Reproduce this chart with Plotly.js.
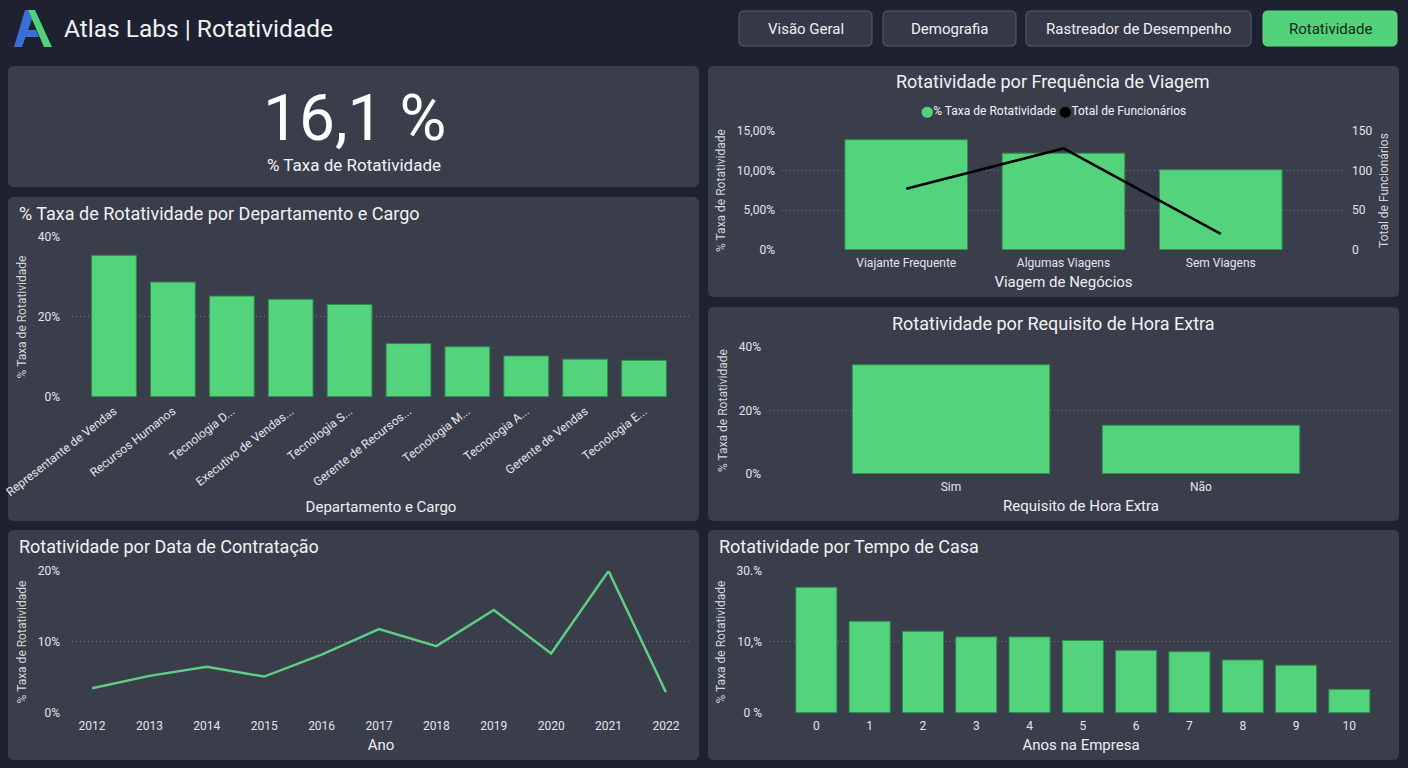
<!DOCTYPE html>
<html>
<head>
<meta charset="utf-8">
<script src="https://cdn.plot.ly/plotly-3.0.1.min.js"></script>
<style>
  html, body { margin: 0; padding: 0; background: #1e2130; }
  #dash { width: 1408px; height: 768px; }
</style>
</head>
<body>
<div id="dash"></div>
<script>
// ---- Data ----
const overallRate = 16.1;

const deptLabels = ["Representante de Vendas", "Recursos Humanos", "Tecnologia D...", "Executivo de Vendas...",
  "Tecnologia S...", "Gerente de Recursos...", "Tecnologia M...", "Tecnologia A...", "Gerente de Vendas", "Tecnologia E..."];
const deptRates = [35.4, 28.7, 25.2, 24.4, 23.1, 13.3, 12.5, 10.2, 9.4, 9.1];

const travelCats = ["Viajante Frequente", "Algumas Viagens", "Sem Viagens"];
const travelRates = [13.9, 12.2, 10.1];
const travelEmployees = [77, 128, 20];

const overtimeCats = ["Sim", "Não"];
const overtimeRates = [34.4, 15.3];

const hireYears = [2012, 2013, 2014, 2015, 2016, 2017, 2018, 2019, 2020, 2021, 2022];
const hireRates = [3.45, 5.2, 6.5, 5.1, 8.2, 11.8, 9.4, 14.5, 8.35, 20.0, 2.9];

const tenureYears = [0, 1, 2, 3, 4, 5, 6, 7, 8, 9, 10];
const tenureRates = [17.7, 12.9, 11.5, 10.7, 10.7, 10.2, 8.8, 8.6, 7.45, 6.7, 3.3];

const navButtons = ["Visão Geral", "Demografia", "Rastreador de Desempenho", "Rotatividade"];
const activeButton = "Rotatividade";

// ---- Page geometry helpers (pixels -> paper fractions) ----
const W = 1408, H = 768;
const px = x => x / W;
const py = y => 1 - y / H;

const GREEN = "#53d47c";
const GREEN_EDGE = "#2f8a50";
const PANEL = "#3a3d4a";
const GRID = "#737784";
const FONT = "Roboto, 'Noto Sans', sans-serif";
const TICK = { family: FONT, size: 12, color: "#e4e5ea" };

function roundRect(x0, y0, x1, y1, r, fill, line) {
  const p = (x, y) => `${px(x)},${py(y)}`;
  const path = `M ${p(x0 + r, y0)} L ${p(x1 - r, y0)} Q ${p(x1, y0)} ${p(x1, y0 + r)} ` +
    `L ${p(x1, y1 - r)} Q ${p(x1, y1)} ${p(x1 - r, y1)} L ${p(x0 + r, y1)} ` +
    `Q ${p(x0, y1)} ${p(x0, y1 - r)} L ${p(x0, y0 + r)} Q ${p(x0, y0)} ${p(x0 + r, y0)} Z`;
  return { type: "path", xref: "paper", yref: "paper", path, fillcolor: fill,
    line: { color: line || fill, width: line ? 1 : 0 }, layer: "below" };
}
function polygon(pts, fill) {
  const path = "M " + pts.map(([x, y]) => `${px(x)},${py(y)}`).join(" L ") + " Z";
  return { type: "path", xref: "paper", yref: "paper", path, fillcolor: fill,
    line: { width: 0 }, layer: "above" };
}
function text(t, x, y, size, opts = {}) {
  return Object.assign({ text: t, x: px(x), y: py(y), xref: "paper", yref: "paper",
    showarrow: false, xanchor: "left", yanchor: "middle",
    font: { family: FONT, size, color: "#f2f2f4" } }, opts);
}

// ---- Panels, header, logo ----
const shapes = [
  roundRect(8, 66, 699, 187, 6, PANEL),
  roundRect(8, 197, 699, 521, 6, PANEL),
  roundRect(708, 66, 1399, 297, 6, PANEL),
  roundRect(708, 307, 1399, 521, 6, PANEL),
  roundRect(8, 530, 699, 760, 6, PANEL),
  roundRect(708, 530, 1399, 760, 6, PANEL),
  // logo "A"
  polygon([[14, 47], [22, 47], [32, 19], [28, 10], [25, 10]], "#3a6fd6"),
  polygon([[28, 10], [35, 10], [52, 47], [44, 47]], "#4fd27a"),
  polygon([[19, 37], [39, 37], [36, 30], [22, 30]], "#3a6fd6")
];

const buttonBoxes = [[739, 872], [883, 1016], [1026, 1251], [1263, 1397]];
const annotations = [
  text("Atlas Labs | Rotatividade", 62, 29, 24.5),
  text(overallRate.toFixed(1).replace(".", ",") + " %", 354, 118, 64,
    { xanchor: "center", font: { family: FONT, size: 64, color: "#ffffff" } }),
  text("% Taxa de Rotatividade", 354, 165, 17, { xanchor: "center" }),
  text("% Taxa de Rotatividade por Departamento e Cargo", 17, 213, 18),
  text("Rotatividade por Frequência de Viagem", 1053, 81, 18, { xanchor: "center" }),
  text(`<span style="color:${GREEN};font-family:'DejaVu Sans';font-size:11px">⬤</span>% Taxa de Rotatividade ` +
    `<span style="color:#000;font-family:'DejaVu Sans';font-size:11px">⬤</span>Total de Funcionários`,
    1053, 111, 12, { xanchor: "center" }),
  text("Rotatividade por Requisito de Hora Extra", 1053, 323, 18, { xanchor: "center" }),
  text("Rotatividade por Data de Contratação", 17, 546, 18),
  text("Rotatividade por Tempo de Casa", 717, 546, 18)
];
navButtons.forEach((label, i) => {
  const [x0, x1] = buttonBoxes[i];
  const active = label === activeButton;
  shapes.push(roundRect(x0, 11, x1, 46, 5, active ? "#52d27b" : "#353846", active ? "#5fdc88" : "#5c5f6c"));
  annotations.push(text(label, (x0 + x1) / 2, 29, 15,
    { xanchor: "center", font: { family: FONT, size: 15, color: active ? "#14261a" : "#f0f0f2" } }));
});

// ---- Traces ----
const barStyle = { color: GREEN, line: { color: GREEN_EDGE, width: 1 } };
const traces = [
  { type: "bar", x: deptLabels, y: deptRates, xaxis: "x", yaxis: "y", width: 0.76, marker: barStyle,
    name: "% Taxa de Rotatividade", showlegend: false },
  { type: "bar", x: travelCats, y: travelRates, xaxis: "x2", yaxis: "y2", width: 0.78, marker: barStyle,
    name: "% Taxa de Rotatividade", showlegend: false },
  { type: "scatter", mode: "lines", x: travelCats, y: travelEmployees, xaxis: "x2", yaxis: "y3",
    line: { color: "#000000", width: 2.5 }, name: "Total de Funcionários", showlegend: false },
  { type: "bar", x: overtimeCats, y: overtimeRates, xaxis: "x4", yaxis: "y4", width: 0.79, marker: barStyle,
    name: "% Taxa de Rotatividade", showlegend: false },
  { type: "scatter", mode: "lines", x: hireYears, y: hireRates, xaxis: "x5", yaxis: "y5",
    line: { color: "#5ccf85", width: 2.5 }, name: "% Taxa de Rotatividade", showlegend: false },
  { type: "bar", x: tenureYears, y: tenureRates, xaxis: "x6", yaxis: "y6", width: 0.77, marker: barStyle,
    name: "% Taxa de Rotatividade", showlegend: false }
];

// ---- Axes ----
function xCat(domain, range, title, extra = {}, titleStandoff = 7) {
  return Object.assign({ domain: [px(domain[0]), px(domain[1])], range, showgrid: false, zeroline: false,
    showline: false, ticks: "", tickfont: TICK, ticklabelstandoff: 4, fixedrange: true,
    title: { text: title, font: { family: FONT, size: 15, color: "#eeeef2" }, standoff: titleStandoff } }, extra);
}
// ranges start a hair below zero so the 0 gridline is drawn
function yPct(anchor, domain, top, vals, labels, standoff, extra = {}) {
  return Object.assign({ anchor, domain: [py(domain[0]), py(domain[1])], range: [-top * 0.002, top],
    tickvals: vals, ticktext: labels,
    showgrid: true, gridcolor: GRID, griddash: "1px,3px", gridwidth: 1, zeroline: false, showline: false,
    ticks: "", tickfont: TICK, ticklabelstandoff: standoff, fixedrange: true,
    title: { text: "% Taxa de Rotatividade", font: { family: FONT, size: 12, color: "#d4d5db" }, standoff: 8 } }, extra);
}

const layout = {
  width: W, height: H, margin: { l: 0, r: 0, t: 0, b: 0 },
  paper_bgcolor: "#1e2130", plot_bgcolor: "rgba(0,0,0,0)",
  font: { family: FONT, color: "#e4e5ea" },
  showlegend: false,
  shapes, annotations,

  xaxis: xCat([72, 690], [-0.713, 9.78], "Departamento e Cargo", { anchor: "y", tickangle: -38 }, 3),
  yaxis: yPct("x", [397, 237], 40, [0, 20, 40], ["0%", "20%", "40%"], 11),

  xaxis2: xCat([782, 1345], [-0.79, 2.79], "Viagem de Negócios", { anchor: "y2" }),
  yaxis2: yPct("x2", [250, 131], 15, [0, 5, 10, 15], ["0%", "5,00%", "10,00%", "15,00%"], 6),
  yaxis3: { overlaying: "y2", side: "right", anchor: "x2", range: [-0.3, 150], tickvals: [0, 50, 100, 150],
    showgrid: false, zeroline: false, ticks: "", tickfont: TICK, ticklabelstandoff: 6, fixedrange: true,
    title: { text: "Total de Funcionários", font: { family: FONT, size: 12, color: "#d4d5db" }, standoff: 8 } },

  xaxis4: xCat([770, 1392], [-0.724, 1.764], "Requisito de Hora Extra", { anchor: "y4" }),
  yaxis4: yPct("x4", [474, 347], 40, [0, 20, 40], ["0%", "20%", "40%"], 8),

  xaxis5: xCat([72, 690], [2011.65, 2022.42], "Ano", { anchor: "y5", tickvals: hireYears }),
  yaxis5: yPct("x5", [713, 571], 20, [0, 10, 20], ["0%", "10%", "20%"], 11),

  xaxis6: xCat([770, 1392], [-0.87, 10.8], "Anos na Empresa", { anchor: "y6", tickvals: tenureYears }),
  yaxis6: yPct("x6", [713, 571], 20, [0, 10, 20], ["0 %", "10,%", "30.%"], 7)
};

Plotly.newPlot("dash", traces, layout, { displayModeBar: false, staticPlot: true });
</script>
</body>
</html>
